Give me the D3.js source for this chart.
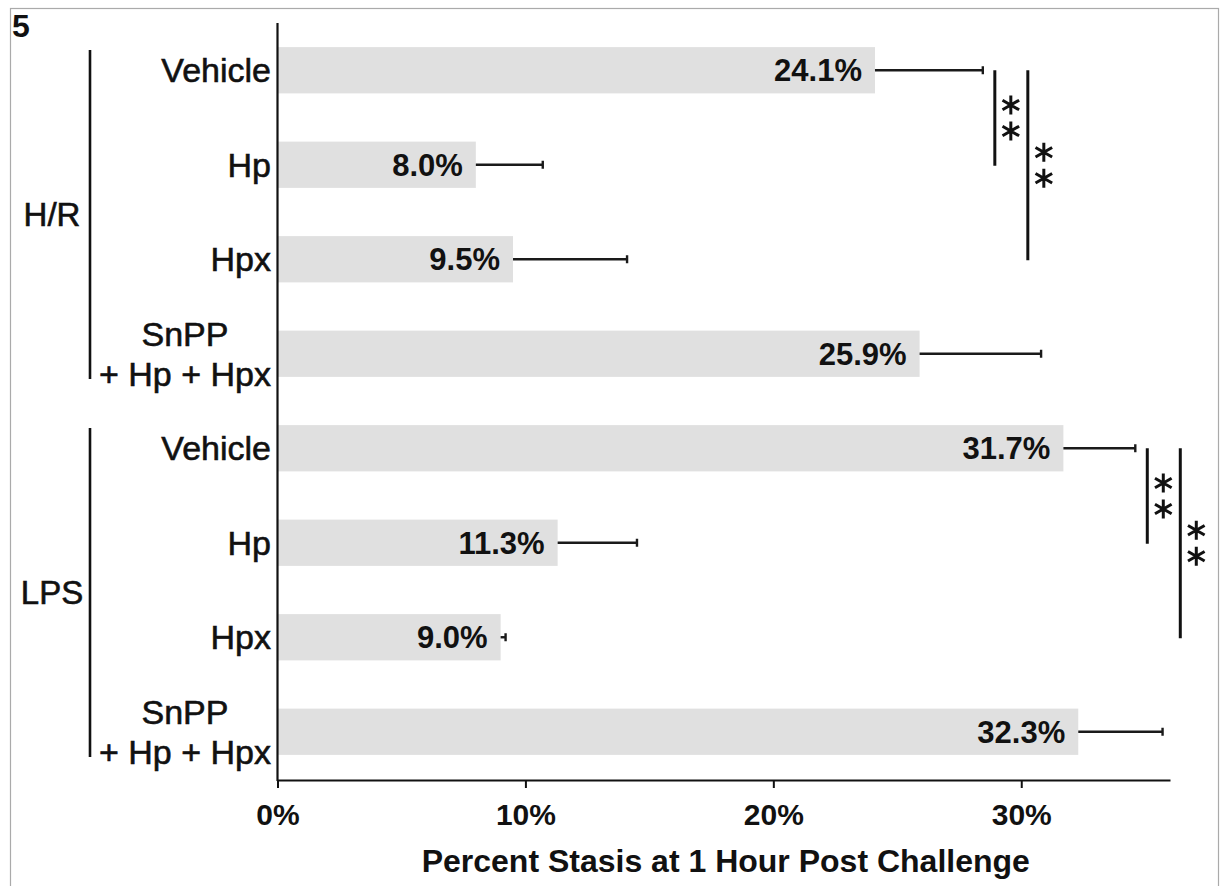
<!DOCTYPE html>
<html>
<head>
<meta charset="utf-8">
<script src="https://cdn.jsdelivr.net/npm/d3@7"></script>
<style>
  body { margin: 0; background: #fff; }
  svg { display: block; }
  text { font-family: "Liberation Sans", Arial, Helvetica, sans-serif; fill: #111; }
  .bold { font-weight: bold; }
  .cat { stroke: #111; stroke-width: 0.6px; }
</style>
</head>
<body>
<svg id="chart" width="1221" height="886"></svg>
<script>
// ---- data ----
const groups = ["H/R", "LPS"];
const treatments = ["Vehicle", "Hp", "Hpx", "SnPP|+ Hp + Hpx"];
const hrValues = [24.1, 8.0, 9.5, 25.9];
const hrErrors = [4.35, 2.7, 4.6, 4.9];
const lpsValues = [31.7, 11.3, 9.0, 32.3];
const lpsErrors = [2.9, 3.2, 0.2, 3.4];
const xTicks = [0, 10, 20, 30];
// significance comparisons: [group, treatment index A, treatment index B, label]
const sigPairs = [
  ["H/R", 0, 1, "**"], ["H/R", 0, 2, "**"],
  ["LPS", 0, 1, "**"], ["LPS", 0, 2, "**"]
];
const panelLabel = "5";
const xTitle = "Percent Stasis at 1 Hour Post Challenge";

const valuesByGroup = { "H/R": hrValues, "LPS": lpsValues };
const errorsByGroup = { "H/R": hrErrors, "LPS": lpsErrors };

const rows = [];
groups.forEach(g => treatments.forEach((t, i) => rows.push({
  key: g + "|" + i, group: g, idx: i, label: t,
  value: valuesByGroup[g][i], err: errorsByGroup[g][i]
})));

const svg = d3.select("#chart");

// frame
svg.append("rect")
  .attr("x", 10.5).attr("y", 8.5).attr("width", 1208).attr("height", 900)
  .attr("fill", "none").attr("stroke", "#aaa").attr("stroke-width", 1.2);

const x = d3.scaleLinear().domain([0, 36]).range([277.5, 1170]);
const y = d3.scaleBand().domain(rows.map(r => r.key)).range([23, 779]).paddingInner(0.51).paddingOuter(0.255);
const cy = k => y(k) + y.bandwidth() / 2;

// bars
svg.append("g").selectAll("rect").data(rows).join("rect")
  .attr("x", x(0)).attr("y", d => y(d.key))
  .attr("width", d => x(d.value) - x(0)).attr("height", y.bandwidth())
  .attr("fill", "#e0e0e0");

// error bars
const eb = svg.append("g").attr("stroke", "#1a1a1a").attr("stroke-width", 2.4);
eb.selectAll("line.stem").data(rows).join("line").attr("class", "stem")
  .attr("x1", d => x(d.value)).attr("x2", d => x(d.value + d.err))
  .attr("y1", d => cy(d.key)).attr("y2", d => cy(d.key));
eb.selectAll("line.cap").data(rows).join("line").attr("class", "cap")
  .attr("x1", d => x(d.value + d.err)).attr("x2", d => x(d.value + d.err))
  .attr("y1", d => cy(d.key) - 4).attr("y2", d => cy(d.key) + 4);

// value labels inside bars
svg.append("g").selectAll("text").data(rows).join("text")
  .attr("class", "bold")
  .attr("x", d => x(d.value) - 13).attr("y", d => cy(d.key))
  .attr("dy", "0.36em").attr("text-anchor", "end")
  .style("font-size", "31px")
  .text(d => d.value.toFixed(1) + "%");

// axes
const xAxis = svg.append("g").attr("transform", "translate(0,780)")
  .call(d3.axisBottom(x).tickValues(xTicks).tickFormat(d => d + "%").tickSize(8).tickSizeOuter(0).tickPadding(16));
xAxis.select(".domain").attr("stroke", "#111").attr("stroke-width", 2.2);
xAxis.selectAll(".tick line").attr("stroke", "#111").attr("stroke-width", 2);
xAxis.selectAll(".tick text").attr("fill", "#111").style("font-size", "30px")
  .style("font-family", "Liberation Sans, Arial, sans-serif").style("font-weight", "bold");

const yAxis = svg.append("g").attr("transform", "translate(277.5,0)")
  .call(d3.axisLeft(y).tickSize(0).tickSizeOuter(0).tickFormat(""));
yAxis.select(".domain").attr("stroke", "#111").attr("stroke-width", 2.2)
  .attr("d", "M0,23V781");

// category labels (multi-line labels are centred on their widest line)
const catG = svg.append("g");
rows.forEach(r => {
  const lines = r.label.split("|");
  const t = catG.append("text").attr("class", "cat").attr("text-anchor", "middle").style("font-size", "34px");
  const spans = lines.map(ln => t.append("tspan").text(ln));
  const w = d3.max(spans, s => s.node().getComputedTextLength());
  const cx = 271 - w / 2;
  const lh = 40;
  spans.forEach((s, i) => s.attr("x", cx)
    .attr("y", cy(r.key) + (i - (lines.length - 1) / 2) * lh)
    .attr("dy", "0.36em"));
});

// group brackets and labels
groups.forEach(g => {
  const gr = rows.filter(r => r.group === g);
  const top = y(gr[0].key) + 3;
  const bot = y(gr[gr.length - 1].key) + y.bandwidth() + 2;
  svg.append("line").attr("x1", 90).attr("x2", 90).attr("y1", top).attr("y2", bot)
    .attr("stroke", "#111").attr("stroke-width", 2.6);
  svg.append("text").attr("class", "cat")
    .attr("x", 52).attr("y", (cy(gr[1].key) + cy(gr[2].key)) / 2 + 2)
    .attr("dy", "0.36em").attr("text-anchor", "middle").style("font-size", "33px").text(g);
});

// significance brackets
const star = d3.symbol(d3.symbolAsterisk, 260);
groups.forEach(g => {
  const pairs = sigPairs.filter(p => p[0] === g);
  const gr = rows.filter(r => r.group === g);
  const first = pairs[0];
  const baseEnd = Math.max(gr[first[1]].value + gr[first[1]].err, gr[first[2]].value + gr[first[2]].err);
  pairs.forEach((p, k) => {
    const a = gr[p[1]], b = gr[p[2]];
    const bx = x(baseEnd) + 12 + k * 33;
    const y1 = cy(a.key), y2 = cy(b.key) + 1;
    svg.append("line").attr("x1", bx).attr("x2", bx).attr("y1", y1).attr("y2", y2)
      .attr("stroke", "#111").attr("stroke-width", 3);
    const mid = (y1 + y2) / 2;
    p[3].split("").forEach((s, j) => {
      svg.append("path").attr("d", star)
        .attr("transform", `translate(${bx + 16},${mid - 13 + j * 26})`)
        .attr("fill", "none").attr("stroke", "#111").attr("stroke-width", 3);
    });
  });
});

// panel label
svg.append("text").attr("class", "bold").attr("x", 12).attr("y", 37).style("font-size", "32px").text(panelLabel);

// axis title
svg.append("text").attr("class", "bold").attr("x", (x(0) + x(36)) / 2 + 2).attr("y", 872)
  .attr("text-anchor", "middle").style("font-size", "32px").text(xTitle);
</script>
</body>
</html>
